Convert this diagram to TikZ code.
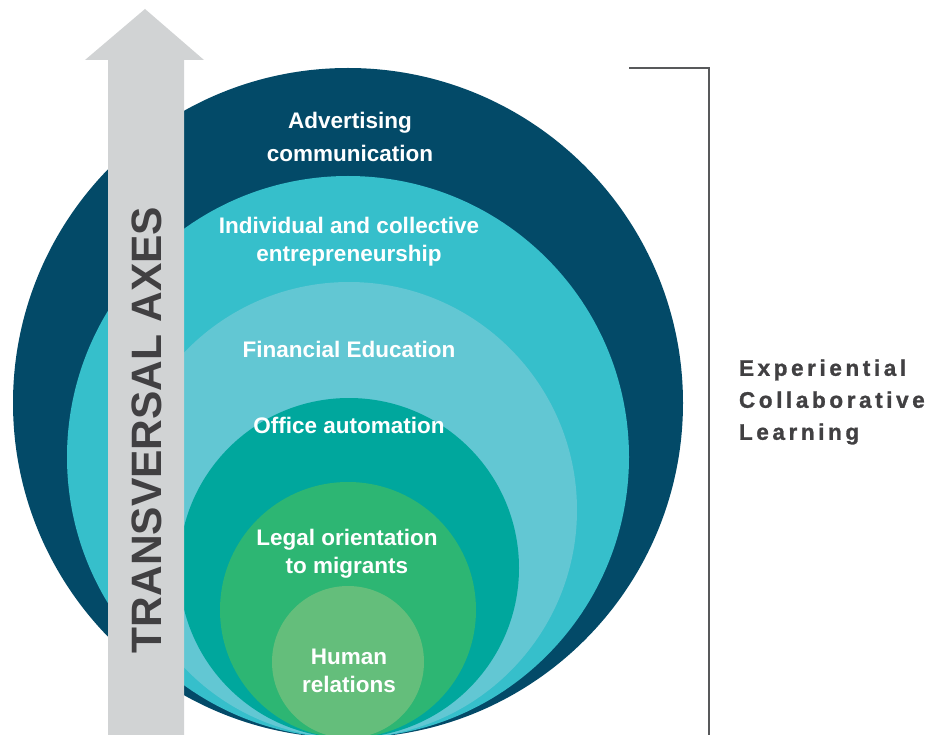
\documentclass[tikz,border=0pt]{standalone}
\usepackage{fontspec}
\setmainfont{Liberation Sans}
\newfontfamily\heavyfont[FakeBold=1.2]{Liberation Sans Bold}
\def\trackit#1{\trackitaux#1\relax}
\def\trackitaux#1{\ifx#1\relax\else#1\kern3.6pt\expandafter\trackitaux\fi}
\definecolor{ringA}{HTML}{034A68}
\definecolor{ringB}{HTML}{36BFCB}
\definecolor{ringC}{HTML}{62C7D3}
\definecolor{ringD}{HTML}{00A79D}
\definecolor{ringE}{HTML}{2DB673}
\definecolor{ringF}{HTML}{64BE7B}
\definecolor{axisgrey}{HTML}{D1D3D4}
\definecolor{textgrey}{HTML}{414042}
\definecolor{linegrey}{HTML}{58595B}
\begin{document}
\begin{tikzpicture}[x=1pt,y=-1pt,inner sep=0pt,outer sep=0pt,
ring/.style={circle,minimum size=#1,draw=none},
lbl/.style={align=center,text=white,font=\fontsize{22.5}{28}\selectfont\bfseries}]

\useasboundingbox (0,0) rectangle (932,735);

% nested circles, all touching at the bottom
\node[ring=670pt,fill=ringA] (adv) at (348,403) {};
\node[ring=562pt,fill=ringB] (ent) at (348,457) {};
\node[ring=456pt,fill=ringC] (fin) at (349,510) {};
\node[ring=340pt,fill=ringD] (off) at (349,568) {};
\node[ring=256pt,fill=ringE] (leg) at (348,610) {};
\node[ring=152pt,fill=ringF] (hum) at (348,662) {};

% transversal arrow
\fill[axisgrey] (108,740) -- (108,60) -- (85,60) -- (145,9) -- (204,60) -- (184,60) -- (184,740) -- cycle;
\node[rotate=90,text=textgrey,font=\fontsize{42.5}{43}\selectfont\bfseries] (axes) at (147,430) {TRANSVERSAL AXES};

% labels
\node[lbl,font=\fontsize{22.5}{33}\selectfont\bfseries] (advl) at (350,137) {Advertising\\communication};
\node[lbl] (entl) at (349,242) {Individual and collective\\entrepreneurship};
\node[lbl] (finl) at (349,349) {Financial Education};
\node[lbl] (offl) at (349,425) {Office automation};
\node[lbl] (legl) at (347,554) {Legal orientation\\to migrants};
\node[lbl] (huml) at (349,671) {Human\\relations};

% bracket
\coordinate (bt) at (629,68);
\coordinate (bc) at (709,68);
\coordinate (bb) at (709,740);
\draw[linegrey,line width=1.3pt] (bt) -- (bc) -- (bb);
\node[anchor=west,align=left,text=textgrey,font=\heavyfont\fontsize{22.5}{32}\selectfont] (exp) at (739,402) {\trackit{Experiential}\\\trackit{Collaborative}\\\trackit{Learning}};

\end{tikzpicture}
\end{document}
